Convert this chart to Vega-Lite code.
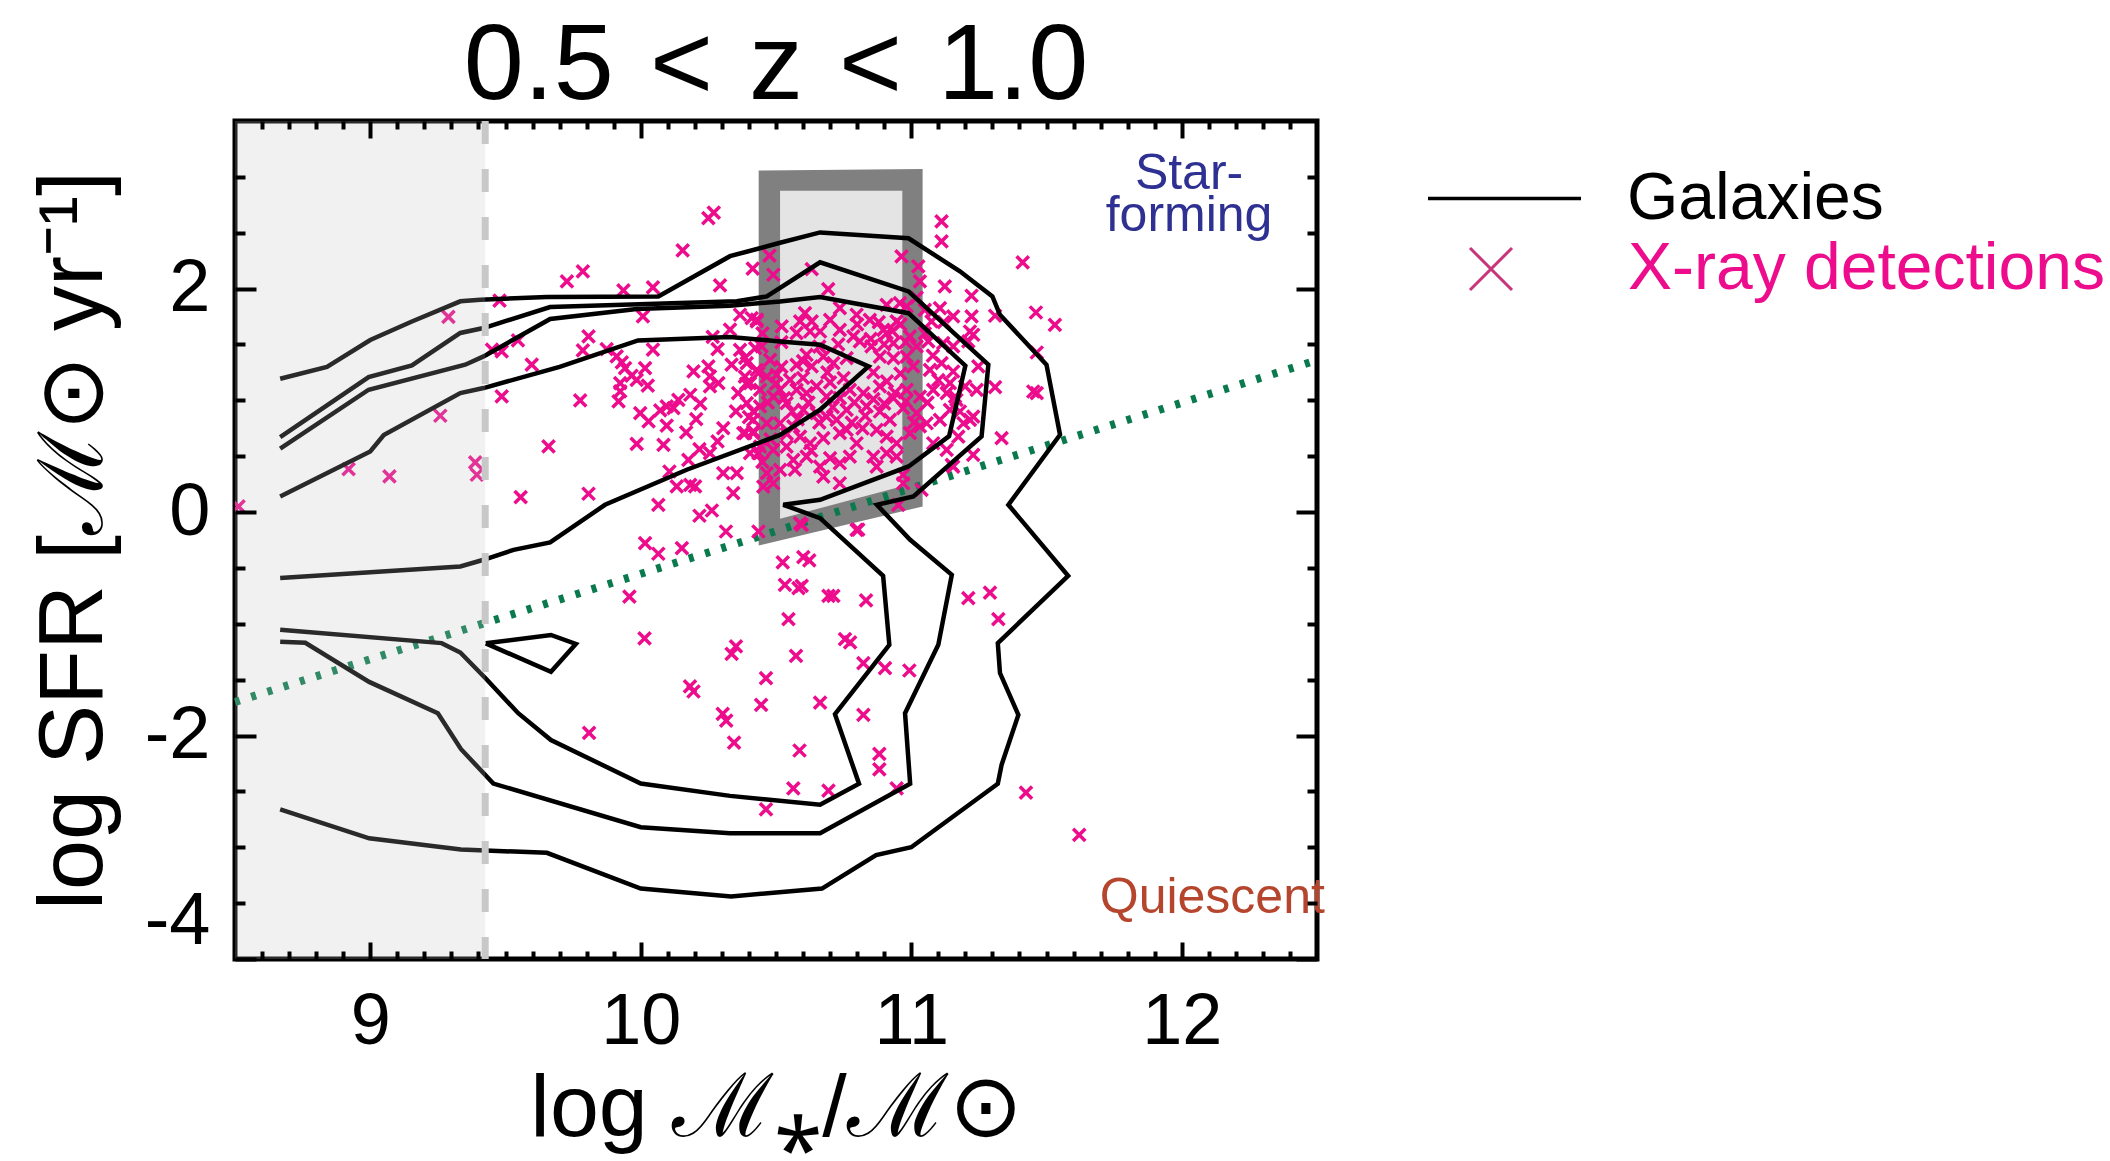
{
  "$schema": "https://vega.github.io/schema/vega-lite/v6.json",
  "width": 1082,
  "height": 838,
  "autosize": {"type": "none"},
  "padding": {"left": 235, "top": 121, "right": 793, "bottom": 202},
  "background": "white",
  "title": {"text": "0.5\u2004<\u2004z\u2004<\u20041.0", "font": "Liberation Sans, Arial, sans-serif", "fontSize": 108, "fontWeight": "normal", "color": "black", "anchor": "middle", "frame": "group", "offset": -4},
  "config": {"view": {"stroke": "black", "strokeWidth": 5}, "axis": {"grid": false, "domain": false}},
  "resolve": {"axis": {"x": "independent", "y": "independent"}},
  "datasets": {
    "boxOuter": [{"x": 10.436, "top": 3.056, "bottom": -0.30}, {"x": 11.042, "top": 3.07, "bottom": 0.05}],
    "boxInner": [{"x": 10.515, "top": 2.876, "bottom": -0.06}, {"x": 10.967, "top": 2.876, "bottom": 0.23}],
    "green": [{"x": 8.5, "y": -1.70}, {"x": 12.5, "y": 1.36}],
    "contours": [
      {"c":1,"i":0,"x":8.667,"y":1.193},{"c":1,"i":1,"x":8.84,"y":1.30},{"c":1,"i":2,"x":9.0,"y":1.54},{"c":1,"i":3,"x":9.154,"y":1.706},{"c":1,"i":4,"x":9.333,"y":1.886},{"c":1,"i":5,"x":9.407,"y":1.90},{"c":1,"i":6,"x":9.653,"y":1.925},{"c":1,"i":7,"x":10.065,"y":1.93},{"c":1,"i":8,"x":10.33,"y":2.29},{"c":1,"i":9,"x":10.515,"y":2.41},{"c":1,"i":10,"x":10.663,"y":2.503},{"c":1,"i":11,"x":10.99,"y":2.45},{"c":1,"i":12,"x":11.18,"y":2.155},{"c":1,"i":13,"x":11.30,"y":1.93},{"c":1,"i":14,"x":11.328,"y":1.766},{"c":1,"i":15,"x":11.50,"y":1.319},{"c":1,"i":16,"x":11.55,"y":0.692},{"c":1,"i":17,"x":11.359,"y":0.065},{"c":1,"i":18,"x":11.58,"y":-0.57},{"c":1,"i":19,"x":11.32,"y":-1.173},{"c":1,"i":20,"x":11.328,"y":-1.441},{"c":1,"i":21,"x":11.396,"y":-1.815},{"c":1,"i":22,"x":11.334,"y":-2.262},{"c":1,"i":23,"x":11.32,"y":-2.432},{"c":1,"i":24,"x":11.0,"y":-3.0},{"c":1,"i":25,"x":10.87,"y":-3.07},{"c":1,"i":26,"x":10.67,"y":-3.37},{"c":1,"i":27,"x":10.334,"y":-3.44},{"c":1,"i":28,"x":10.0,"y":-3.37},{"c":1,"i":29,"x":9.653,"y":-3.05},{"c":1,"i":30,"x":9.335,"y":-3.02},{"c":1,"i":31,"x":8.996,"y":-2.92},{"c":1,"i":32,"x":8.667,"y":-2.66},
      {"c":2,"i":0,"x":8.667,"y":0.671},{"c":2,"i":1,"x":8.994,"y":1.208},{"c":2,"i":2,"x":9.154,"y":1.313},{"c":2,"i":3,"x":9.333,"y":1.603},{"c":2,"i":4,"x":9.419,"y":1.647},{"c":2,"i":5,"x":9.665,"y":1.835},{"c":2,"i":6,"x":10.355,"y":1.886},{"c":2,"i":7,"x":10.466,"y":1.93},{"c":2,"i":8,"x":10.663,"y":2.235},{"c":2,"i":9,"x":10.99,"y":1.975},{"c":2,"i":10,"x":11.285,"y":1.319},{"c":2,"i":11,"x":11.26,"y":0.677},{"c":2,"i":12,"x":11.008,"y":0.14},{"c":2,"i":13,"x":10.873,"y":0.065},{"c":2,"i":14,"x":10.996,"y":-0.248},{"c":2,"i":15,"x":11.15,"y":-0.561},{"c":2,"i":16,"x":11.10,"y":-1.188},{"c":2,"i":17,"x":10.977,"y":-1.80},{"c":2,"i":18,"x":10.996,"y":-2.432},{"c":2,"i":19,"x":10.663,"y":-2.874},{"c":2,"i":20,"x":10.33,"y":-2.874},{"c":2,"i":21,"x":10.0,"y":-2.82},{"c":2,"i":22,"x":9.455,"y":-2.43},{"c":2,"i":23,"x":9.335,"y":-2.12},{"c":2,"i":24,"x":9.25,"y":-1.80},{"c":2,"i":25,"x":8.996,"y":-1.52},{"c":2,"i":26,"x":8.76,"y":-1.17},{"c":2,"i":27,"x":8.667,"y":-1.16},
      {"c":3,"i":0,"x":8.667,"y":0.567},{"c":3,"i":1,"x":8.994,"y":1.095},{"c":3,"i":2,"x":9.351,"y":1.319},{"c":3,"i":3,"x":9.419,"y":1.393},{"c":3,"i":4,"x":9.665,"y":1.728},{"c":3,"i":5,"x":9.985,"y":1.817},{"c":3,"i":6,"x":10.33,"y":1.847},{"c":3,"i":7,"x":10.515,"y":1.885},{"c":3,"i":8,"x":10.663,"y":1.925},{"c":3,"i":9,"x":10.99,"y":1.78},{"c":3,"i":10,"x":11.2,"y":1.31},{"c":3,"i":11,"x":11.14,"y":0.68},{"c":3,"i":12,"x":10.99,"y":0.408},{"c":3,"i":13,"x":10.663,"y":0.11},{"c":3,"i":14,"x":10.527,"y":0.065},{"c":3,"i":15,"x":10.663,"y":-0.054},{"c":3,"i":16,"x":10.896,"y":-0.57},{"c":3,"i":17,"x":10.919,"y":-1.188},{"c":3,"i":18,"x":10.718,"y":-1.809},{"c":3,"i":19,"x":10.807,"y":-2.432},{"c":3,"i":20,"x":10.663,"y":-2.62},{"c":3,"i":21,"x":10.33,"y":-2.54},{"c":3,"i":22,"x":10.0,"y":-2.43},{"c":3,"i":23,"x":9.668,"y":-2.04},{"c":3,"i":24,"x":9.547,"y":-1.80},{"c":3,"i":25,"x":9.427,"y":-1.49},{"c":3,"i":26,"x":9.333,"y":-1.257},{"c":3,"i":27,"x":9.264,"y":-1.173},{"c":3,"i":28,"x":8.667,"y":-1.054},
      {"c":4,"i":0,"x":8.667,"y":0.14},{"c":4,"i":1,"x":9.0,"y":0.543},{"c":4,"i":2,"x":9.05,"y":0.69},{"c":4,"i":3,"x":9.333,"y":1.065},{"c":4,"i":4,"x":9.419,"y":1.11},{"c":4,"i":5,"x":9.70,"y":1.30},{"c":4,"i":6,"x":9.99,"y":1.536},{"c":4,"i":7,"x":10.33,"y":1.567},{"c":4,"i":8,"x":10.515,"y":1.527},{"c":4,"i":9,"x":10.663,"y":1.498},{"c":4,"i":10,"x":10.842,"y":1.304},{"c":4,"i":11,"x":10.663,"y":0.916},{"c":4,"i":12,"x":10.515,"y":0.69},{"c":4,"i":13,"x":10.17,"y":0.379},{"c":4,"i":14,"x":9.868,"y":0.065},{"c":4,"i":15,"x":9.665,"y":-0.272},{"c":4,"i":16,"x":9.53,"y":-0.338},{"c":4,"i":17,"x":9.419,"y":-0.427},{"c":4,"i":18,"x":9.333,"y":-0.487},{"c":4,"i":19,"x":8.667,"y":-0.591},
      {"c":5,"i":0,"x":9.427,"y":-1.175},{"c":5,"i":1,"x":9.668,"y":-1.10},{"c":5,"i":2,"x":9.76,"y":-1.18},{"c":5,"i":3,"x":9.668,"y":-1.43},{"c":5,"i":4,"x":9.427,"y":-1.175}
    ],
    "xray": [
      {"x":9.289,"y":1.746},{"x":9.45,"y":1.453},{"x":9.486,"y":1.438},{"x":9.259,"y":0.862},{"x":8.92,"y":0.385},{"x":9.071,"y":0.319},{"x":9.388,"y":0.444},{"x":9.394,"y":0.334},{"x":8.513,"y":0.05},
      {"x":10.25,"y":2.63},{"x":10.27,"y":2.68},{"x":10.155,"y":2.342},{"x":9.786,"y":2.154},{"x":9.727,"y":2.065},{"x":9.936,"y":1.984},{"x":10.045,"y":2.011},{"x":9.478,"y":1.892},{"x":10.293,"y":2.029},{"x":10.414,"y":2.178},{"x":10.476,"y":2.295},{"x":10.49,"y":2.124},{"x":10.008,"y":1.751},{"x":10.367,"y":1.766},{"x":10.429,"y":1.722},{"x":9.807,"y":1.572},{"x":9.786,"y":1.447},{"x":9.546,"y":1.536},{"x":9.597,"y":1.319},{"x":9.874,"y":1.459},{"x":9.911,"y":1.393},{"x":9.93,"y":1.339},{"x":9.942,"y":1.289},{"x":9.924,"y":1.155},{"x":9.924,"y":1.08},{"x":9.918,"y":0.99},{"x":9.966,"y":1.22},{"x":9.985,"y":1.184},{"x":10.016,"y":1.289},{"x":10.026,"y":1.131},{"x":10.045,"y":1.453},{"x":10.266,"y":1.567},{"x":10.284,"y":1.459},{"x":10.33,"y":1.632},{"x":10.336,"y":1.319},{"x":10.195,"y":1.259},{"x":10.25,"y":1.304},{"x":10.256,"y":1.214},{"x":10.287,"y":1.155},{"x":10.256,"y":1.124},{"x":10.386,"y":1.379},{"x":10.39,"y":1.149},{"x":10.435,"y":1.244},{"x":10.423,"y":1.468},{"x":9.776,"y":0.999},{"x":9.486,"y":1.035},{"x":9.998,"y":0.886},{"x":10.029,"y":0.811},{"x":10.072,"y":0.91},{"x":10.096,"y":0.945},{"x":10.121,"y":0.931},{"x":10.139,"y":1.005},{"x":10.183,"y":1.05},{"x":10.22,"y":0.97},{"x":10.096,"y":0.773},{"x":10.205,"y":0.832},{"x":10.168,"y":0.713},{"x":9.985,"y":0.611},{"x":10.084,"y":0.602},{"x":10.217,"y":0.564},{"x":10.305,"y":0.752},{"x":10.284,"y":0.632},{"x":10.352,"y":0.901},{"x":10.36,"y":1.065},{"x":10.416,"y":0.901},{"x":10.386,"y":0.707},{"x":10.416,"y":0.722},{"x":10.435,"y":0.528},{"x":9.659,"y":0.587},{"x":10.176,"y":0.468},{"x":10.256,"y":0.528},{"x":10.305,"y":0.349},{"x":10.355,"y":0.349},{"x":10.133,"y":0.229},{"x":10.183,"y":0.244},{"x":10.201,"y":0.229},{"x":10.106,"y":0.363},{"x":10.342,"y":0.17},{"x":10.065,"y":0.065},{"x":10.263,"y":0.014},{"x":10.217,"y":-0.033},{"x":10.315,"y":-0.174},{"x":10.435,"y":-0.174},{"x":9.556,"y":0.134},{"x":9.807,"y":0.164},{"x":10.016,"y":-0.278},{"x":10.152,"y":-0.322},
      {"x":11.112,"y":2.601},{"x":11.112,"y":2.422},{"x":10.964,"y":2.288},{"x":11.026,"y":2.198},{"x":10.632,"y":2.175},{"x":10.693,"y":1.996},{"x":11.032,"y":2.064},{"x":11.124,"y":2.02},
      {"x":10.607,"y":1.781},{"x":10.632,"y":1.706},{"x":10.589,"y":1.706},{"x":10.736,"y":1.825},{"x":10.798,"y":1.766},{"x":10.847,"y":1.721},{"x":10.909,"y":1.855},{"x":10.958,"y":1.87},{"x":10.983,"y":1.84},{"x":10.946,"y":1.706},{"x":10.897,"y":1.631},{"x":10.41,"y":1.736},{"x":10.429,"y":1.706},{"x":10.521,"y":1.661},{"x":11.05,"y":1.81},{"x":11.106,"y":1.825},{"x":11.155,"y":1.751},{"x":11.075,"y":1.706},
      {"x":10.576,"y":1.601},{"x":10.626,"y":1.616},{"x":10.663,"y":1.616},{"x":10.736,"y":1.631},{"x":10.786,"y":1.572},{"x":10.81,"y":1.527},{"x":10.853,"y":1.482},{"x":10.909,"y":1.601},{"x":10.934,"y":1.512},{"x":10.995,"y":1.572},{"x":11.02,"y":1.482},{"x":11.063,"y":1.527},{"x":11.118,"y":1.512},{"x":11.155,"y":1.482},{"x":10.367,"y":1.452},{"x":10.447,"y":1.482},{"x":10.478,"y":1.363},{"x":10.392,"y":1.333},{"x":10.429,"y":1.273},
      {"x":10.613,"y":1.407},{"x":10.675,"y":1.392},{"x":10.712,"y":1.333},{"x":10.761,"y":1.378},{"x":10.632,"y":1.303},{"x":10.576,"y":1.318},{"x":10.884,"y":1.392},{"x":10.934,"y":1.378},{"x":10.983,"y":1.392},{"x":11.007,"y":1.303},{"x":11.069,"y":1.273},{"x":11.112,"y":1.333},{"x":11.155,"y":1.258},{"x":10.502,"y":1.228},{"x":10.385,"y":1.213},{"x":10.466,"y":1.213},{"x":10.441,"y":1.094},{"x":10.404,"y":1.154},{"x":10.552,"y":1.184},
      {"x":10.515,"y":1.094},{"x":10.576,"y":1.094},{"x":10.613,"y":1.064},{"x":10.65,"y":1.124},{"x":10.687,"y":1.034},{"x":10.736,"y":1.019},{"x":10.773,"y":1.094},{"x":10.823,"y":1.064},{"x":10.884,"y":1.124},{"x":10.934,"y":1.019},{"x":10.983,"y":1.094},{"x":11.032,"y":1.034},{"x":11.081,"y":1.094},{"x":11.131,"y":1.064},{"x":11.167,"y":1.004},{"x":10.392,"y":0.975},{"x":10.441,"y":0.945},{"x":10.49,"y":1.034},{"x":10.539,"y":0.975},
      {"x":10.601,"y":0.915},{"x":10.65,"y":0.885},{"x":10.687,"y":0.855},{"x":10.724,"y":0.825},{"x":10.761,"y":0.915},{"x":10.835,"y":0.945},{"x":10.884,"y":0.9},{"x":10.921,"y":0.825},{"x":10.97,"y":0.93},{"x":11.02,"y":0.885},{"x":11.057,"y":0.795},{"x":11.106,"y":0.825},{"x":11.143,"y":0.915},{"x":10.416,"y":0.825},{"x":10.466,"y":0.795},{"x":10.515,"y":0.795},{"x":10.564,"y":0.766},{"x":10.379,"y":0.706},{"x":10.416,"y":0.706},
      {"x":10.589,"y":0.676},{"x":10.626,"y":0.616},{"x":10.675,"y":0.661},{"x":10.736,"y":0.706},{"x":10.761,"y":0.736},{"x":10.798,"y":0.616},{"x":10.872,"y":0.736},{"x":10.909,"y":0.676},{"x":10.946,"y":0.616},{"x":10.995,"y":0.706},{"x":11.032,"y":0.766},{"x":11.081,"y":0.616},{"x":11.131,"y":0.557},{"x":10.441,"y":0.586},{"x":10.49,"y":0.557},{"x":10.539,"y":0.586},{"x":10.404,"y":0.527},
      {"x":10.564,"y":0.467},{"x":10.613,"y":0.497},{"x":10.663,"y":0.407},{"x":10.7,"y":0.482},{"x":10.736,"y":0.437},{"x":10.773,"y":0.497},{"x":10.86,"y":0.497},{"x":10.909,"y":0.527},{"x":10.946,"y":0.497},{"x":10.97,"y":0.333},{"x":10.97,"y":0.258},{"x":10.872,"y":0.407},{"x":10.515,"y":0.377},{"x":10.466,"y":0.348},{"x":10.49,"y":0.258},{"x":10.453,"y":0.228},{"x":10.675,"y":0.318},{"x":10.736,"y":0.258},
      {"x":10.589,"y":-0.1},{"x":10.798,"y":-0.16},{"x":10.952,"y":0.064},{"x":11.038,"y":0.198},{"x":11.155,"y":0.407},
      {"x":10.50,"y":1.15},{"x":10.53,"y":1.02},{"x":10.56,"y":0.90},{"x":10.60,"y":1.20},{"x":10.62,"y":0.98},{"x":10.66,"y":0.80},{"x":10.70,"y":1.16},{"x":10.71,"y":0.94},{"x":10.54,"y":0.70},{"x":10.58,"y":0.83},{"x":10.47,"y":0.98},{"x":10.52,"y":1.30},{"x":10.69,"y":1.25},{"x":10.75,"y":1.20},{"x":10.79,"y":0.98},{"x":10.83,"y":0.86},{"x":10.86,"y":1.01},{"x":10.90,"y":0.97},{"x":10.94,"y":1.07},{"x":10.98,"y":0.99},{"x":10.91,"y":1.17},{"x":10.96,"y":1.24},{"x":10.86,"y":1.25},{"x":10.90,"y":1.50},{"x":10.93,"y":1.62},{"x":10.96,"y":1.68},{"x":10.98,"y":1.52},{"x":10.88,"y":1.70},{"x":10.85,"y":1.55},{"x":11.05,"y":1.60},{"x":11.08,"y":1.40},{"x":11.10,"y":1.18},{"x":11.06,"y":0.98},{"x":11.01,"y":0.80},{"x":10.82,"y":0.75},{"x":10.78,"y":0.80},{"x":10.63,"y":0.55},{"x":10.57,"y":0.38},{"x":10.45,"y":0.45},{"x":10.40,"y":0.85},{"x":10.48,"y":0.65},{"x":10.60,"y":1.35},{"x":10.66,"y":1.48},{"x":10.73,"y":1.50},{"x":10.80,"y":1.68},{"x":10.70,"y":1.72},{"x":10.52,"y":1.52},{"x":10.45,"y":1.60},{"x":11.12,"y":1.70},{"x":11.02,"y":1.92},
      {"x":11.412,"y":2.234},{"x":11.223,"y":1.936},{"x":11.223,"y":1.751},{"x":11.31,"y":1.757},{"x":11.461,"y":1.786},{"x":11.531,"y":1.676},{"x":11.217,"y":1.616},{"x":11.229,"y":1.587},{"x":11.211,"y":1.527},{"x":11.464,"y":1.428},{"x":11.248,"y":1.303},{"x":11.31,"y":1.118},{"x":11.242,"y":1.094},{"x":11.451,"y":1.079},{"x":11.464,"y":1.064},{"x":11.143,"y":1.154},{"x":11.162,"y":1.034},{"x":11.199,"y":1.124},{"x":11.18,"y":0.9},{"x":11.217,"y":0.825},{"x":11.193,"y":0.795},{"x":11.229,"y":0.855},{"x":11.174,"y":0.676},{"x":11.334,"y":0.661},{"x":11.229,"y":0.512},{"x":11.15,"y":0.422},
      {"x":10.595,"y":-0.114},{"x":10.804,"y":-0.158},{"x":10.065,"y":-0.373},{"x":10.525,"y":-0.451},{"x":10.601,"y":-0.403},{"x":10.623,"y":-0.433},{"x":10.533,"y":-0.651},{"x":10.583,"y":-0.681},{"x":10.595,"y":-0.66},{"x":10.694,"y":-0.75},{"x":10.712,"y":-0.75},{"x":10.833,"y":-0.791},{"x":11.211,"y":-0.77},{"x":11.291,"y":-0.72},{"x":11.322,"y":-0.958},{"x":10.546,"y":-0.958},{"x":10.755,"y":-1.138},{"x":10.774,"y":-1.167},{"x":10.336,"y":-1.269},{"x":10.352,"y":-1.203},{"x":10.574,"y":-1.287},{"x":10.823,"y":-1.352},{"x":10.903,"y":-1.397},{"x":10.993,"y":-1.418},{"x":10.463,"y":-1.487},{"x":10.182,"y":-1.561},{"x":10.195,"y":-1.606},{"x":10.445,"y":-1.726},{"x":10.663,"y":-1.705},{"x":10.823,"y":-1.815},{"x":10.303,"y":-1.806},{"x":10.316,"y":-1.866},{"x":10.345,"y":-2.063},{"x":10.587,"y":-2.134},{"x":10.882,"y":-2.164},{"x":10.882,"y":-2.302},{"x":10.564,"y":-2.472},{"x":10.694,"y":-2.493},{"x":10.946,"y":-2.472},{"x":10.463,"y":-2.66},{"x":11.424,"y":-2.511},{"x":11.621,"y":-2.89},
      {"x":9.958,"y":-0.756},{"x":10.014,"y":-1.13},{"x":9.809,"y":-1.976}
    ]
  },
  "layer": [
    {
      "data": {"name": "boxOuter"},
      "mark": {"type": "area", "color": "#808080", "opacity": 1},
      "encoding": {
        "x": {"field": "x", "type": "quantitative", "scale": {"domain": [8.5, 12.5], "nice": false, "zero": false},
              "axis": {"orient": "bottom", "values": [9, 10, 11, 12], "ticks": false, "tickSize": 0, "domain": false, "grid": false, "labelFont": "Liberation Sans, Arial, sans-serif", "labelFontSize": 72, "labelPadding": 27, "labelColor": "black", "title": "log \u2133\u204e/\u2133\u2299", "titleFont": "Liberation Sans, Arial, sans-serif", "titleFontSize": 88, "titleFontWeight": "normal", "titleColor": "black", "titlePadding": 8}},
        "y": {"field": "top", "type": "quantitative", "scale": {"domain": [-4, 3.5], "nice": false, "zero": false},
              "axis": {"orient": "left", "values": [-4, -2, 0, 2], "ticks": false, "tickSize": 0, "domain": false, "grid": false, "labelFont": "Liberation Sans, Arial, sans-serif", "labelFontSize": 74, "labelPadding": 25, "labelColor": "black", "labelFlush": true, "labelExpr": "datum.value < 0 ? '-' + abs(datum.value) : '' + datum.value", "title": "log SFR [\u2133\u2299 yr\u207b\u00b9]", "titleFont": "Liberation Sans, Arial, sans-serif", "titleFontSize": 90, "titleFontWeight": "normal", "titleColor": "black", "titlePadding": 24}},
        "y2": {"field": "bottom"}
      }
    },
    {
      "data": {"name": "boxInner"},
      "mark": {"type": "area", "color": "#e4e4e4", "opacity": 1},
      "encoding": {
        "x": {"field": "x", "type": "quantitative", "scale": {"domain": [8.5, 12.5], "nice": false, "zero": false},
              "axis": {"orient": "bottom", "values": [9, 10, 11, 12], "labels": false, "domain": false, "grid": false, "ticks": true, "tickSize": -17, "tickWidth": 4, "tickColor": "black", "title": null, "zindex": 1}},
        "y": {"field": "top", "type": "quantitative", "scale": {"domain": [-4, 3.5], "nice": false, "zero": false},
              "axis": {"orient": "left", "values": [-4, -2, 0, 2], "labels": false, "domain": false, "grid": false, "ticks": true, "tickSize": -21, "tickWidth": 4, "tickColor": "black", "title": null, "zindex": 1}},
        "y2": {"field": "bottom"}
      }
    },
    {
      "data": {"name": "green"},
      "mark": {"type": "line", "color": "#0a7a4e", "strokeWidth": 8, "strokeDash": [5, 12], "strokeCap": "butt"},
      "encoding": {
        "x": {"field": "x", "type": "quantitative", "scale": {"domain": [8.5, 12.5], "nice": false, "zero": false},
              "axis": {"orient": "bottom", "values": [8.6,8.7,8.8,8.9,9.1,9.2,9.3,9.4,9.5,9.6,9.7,9.8,9.9,10.1,10.2,10.3,10.4,10.5,10.6,10.7,10.8,10.9,11.1,11.2,11.3,11.4,11.5,11.6,11.7,11.8,11.9,12.1,12.2,12.3,12.4], "labels": false, "domain": false, "grid": false, "ticks": true, "tickSize": -8, "tickWidth": 4, "tickColor": "black", "title": null, "zindex": 1}},
        "y": {"field": "y", "type": "quantitative", "scale": {"domain": [-4, 3.5], "nice": false, "zero": false},
              "axis": {"orient": "left", "values": [-3.5,-3,-2.5,-1.5,-1,-0.5,0.5,1,1.5,2.5,3], "labels": false, "domain": false, "grid": false, "ticks": true, "tickSize": -10, "tickWidth": 4, "tickColor": "black", "title": null, "zindex": 1}}
      }
    },
    {
      "data": {"name": "xray"},
      "mark": {"type": "point", "filled": false, "strokeWidth": 3.5, "size": 150, "color": "#ec0c8c", "opacity": 1, "clip": true},
      "encoding": {
        "x": {"field": "x", "type": "quantitative", "scale": {"domain": [8.5, 12.5], "nice": false, "zero": false},
              "axis": {"orient": "top", "values": [9, 10, 11, 12], "labels": false, "domain": false, "grid": false, "ticks": true, "tickSize": -17, "tickWidth": 4, "tickColor": "black", "title": null, "zindex": 1}},
        "y": {"field": "y", "type": "quantitative", "scale": {"domain": [-4, 3.5], "nice": false, "zero": false},
              "axis": {"orient": "right", "values": [-4, -2, 0, 2], "labels": false, "domain": false, "grid": false, "ticks": true, "tickSize": -21, "tickWidth": 4, "tickColor": "black", "title": null, "zindex": 1}},
        "shape": {"datum": "X-ray detections", "type": "nominal",
                  "scale": {"domain": ["X-ray detections"], "range": ["M-1,-1L1,1M-1,1L1,-1"]},
                  "legend": {"orient": "none", "legendX": 1223, "legendY": 115, "title": null, "padding": 0, "symbolSize": 1764, "symbolStrokeWidth": 3, "symbolStrokeColor": "#c8357a", "symbolFillColor": "transparent", "labelFont": "Liberation Sans, Arial, sans-serif", "labelFontSize": 66, "labelColor": "#ec0c8c", "labelOffset": 104, "labelLimit": 0}}
      }
    },
    {
      "data": {"name": "contours"},
      "mark": {"type": "line", "strokeWidth": 4.5, "clip": true},
      "encoding": {
        "x": {"field": "x", "type": "quantitative", "scale": {"domain": [8.5, 12.5], "nice": false, "zero": false},
              "axis": {"orient": "top", "values": [8.6,8.7,8.8,8.9,9.1,9.2,9.3,9.4,9.5,9.6,9.7,9.8,9.9,10.1,10.2,10.3,10.4,10.5,10.6,10.7,10.8,10.9,11.1,11.2,11.3,11.4,11.5,11.6,11.7,11.8,11.9,12.1,12.2,12.3,12.4], "labels": false, "domain": false, "grid": false, "ticks": true, "tickSize": -8, "tickWidth": 4, "tickColor": "black", "title": null, "zindex": 1}},
        "y": {"field": "y", "type": "quantitative", "scale": {"domain": [-4, 3.5], "nice": false, "zero": false},
              "axis": {"orient": "right", "values": [-3.5,-3,-2.5,-1.5,-1,-0.5,0.5,1,1.5,2.5,3], "labels": false, "domain": false, "grid": false, "ticks": true, "tickSize": -10, "tickWidth": 4, "tickColor": "black", "title": null, "zindex": 1}},
        "color": {"datum": "Galaxies", "type": "nominal",
                  "scale": {"domain": ["Galaxies"], "range": ["black"]},
                  "legend": {"orient": "none", "legendX": 1191, "legendY": -1, "title": null, "padding": 0, "symbolType": "stroke", "symbolSize": 23409, "symbolStrokeWidth": 3.5, "labelFont": "Liberation Sans, Arial, sans-serif", "labelFontSize": 66, "labelColor": "black", "labelOffset": 44, "labelLimit": 0}},
        "detail": {"field": "c", "type": "nominal"},
        "order": {"field": "i", "type": "quantitative"}
      }
    },
    {
      "data": {"values": [{"x": 8.5, "x2": 9.425, "y": 3.5, "y2": -4}]},
      "mark": {"type": "rect", "color": "#bdbdbd", "opacity": 0.22},
      "encoding": {
        "x": {"field": "x", "type": "quantitative", "scale": {"domain": [8.5, 12.5], "nice": false, "zero": false}, "axis": null},
        "x2": {"field": "x2"},
        "y": {"field": "y", "type": "quantitative", "scale": {"domain": [-4, 3.5], "nice": false, "zero": false}, "axis": null},
        "y2": {"field": "y2"}
      }
    },
    {
      "data": {"values": [{"x": 9.425, "y": 3.5, "y2": -4}]},
      "mark": {"type": "rule", "color": "#c8c8c8", "strokeWidth": 7, "strokeDash": [23, 25]},
      "encoding": {
        "x": {"field": "x", "type": "quantitative", "scale": {"domain": [8.5, 12.5], "nice": false, "zero": false}, "axis": null},
        "y": {"field": "y", "type": "quantitative", "scale": {"domain": [-4, 3.5], "nice": false, "zero": false}, "axis": null},
        "y2": {"field": "y2"}
      }
    },
    {
      "data": {"values": [{"x": 12.027, "y": 2.892, "t": ["Star-", "forming"]}]},
      "mark": {"type": "text", "font": "Liberation Sans, Arial, sans-serif", "fontSize": 50, "lineHeight": 42, "color": "#2e3192", "align": "center", "baseline": "alphabetic"},
      "encoding": {
        "x": {"field": "x", "type": "quantitative", "scale": {"domain": [8.5, 12.5], "nice": false, "zero": false}, "axis": null},
        "y": {"field": "y", "type": "quantitative", "scale": {"domain": [-4, 3.5], "nice": false, "zero": false}, "axis": null},
        "text": {"field": "t"}
      }
    },
    {
      "data": {"values": [{"x": 12.113, "y": -3.59, "t": "Quiescent"}]},
      "mark": {"type": "text", "font": "Liberation Sans, Arial, sans-serif", "fontSize": 50, "color": "#b5452d", "align": "center", "baseline": "alphabetic"},
      "encoding": {
        "x": {"field": "x", "type": "quantitative", "scale": {"domain": [8.5, 12.5], "nice": false, "zero": false}, "axis": null},
        "y": {"field": "y", "type": "quantitative", "scale": {"domain": [-4, 3.5], "nice": false, "zero": false}, "axis": null},
        "text": {"field": "t"}
      }
    }
  ]
}
